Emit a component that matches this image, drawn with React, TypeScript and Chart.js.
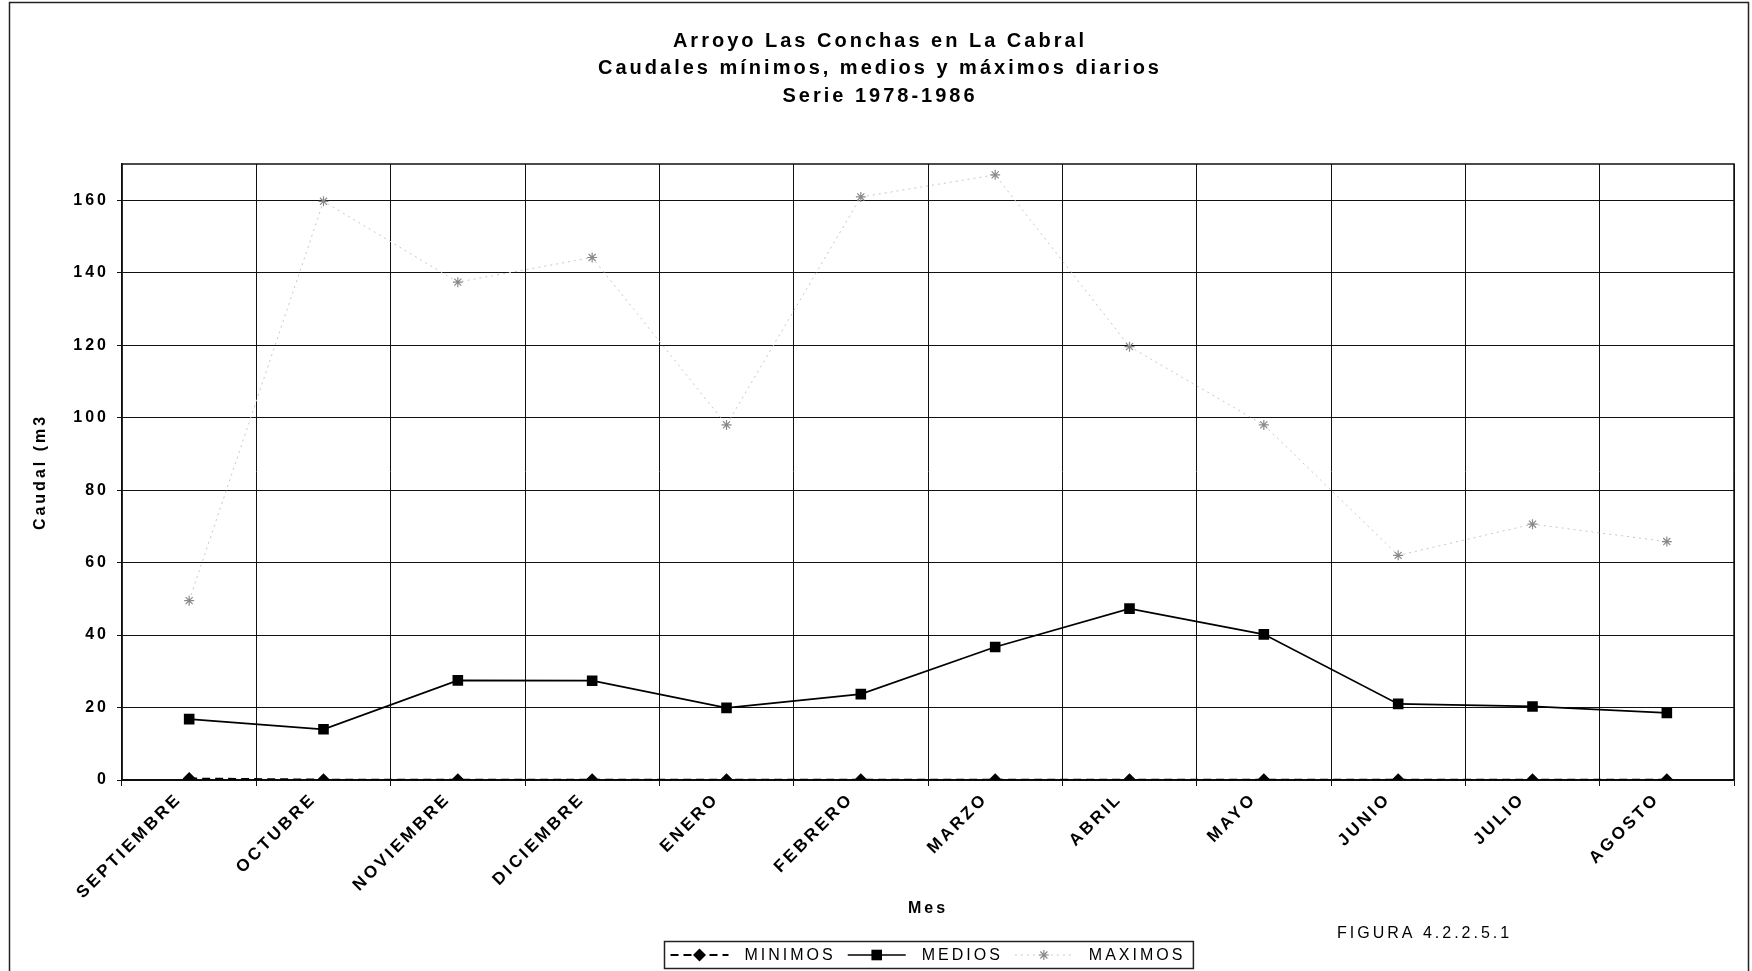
import React, { useEffect, useRef } from 'react';
import { Chart, registerables } from 'chart.js';

Chart.register(...registerables);

// ---------------- data ----------------
const months = [
  'SEPTIEMBRE', 'OCTUBRE', 'NOVIEMBRE', 'DICIEMBRE', 'ENERO', 'FEBRERO',
  'MARZO', 'ABRIL', 'MAYO', 'JUNIO', 'JULIO', 'AGOSTO',
];
const minimos = [0.4, 0.1, 0.1, 0.1, 0.1, 0.1, 0.1, 0.1, 0.1, 0.1, 0.1, 0.1];
const medios = [16.8, 14.0, 27.5, 27.4, 19.9, 23.7, 36.7, 47.3, 40.2, 21.0, 20.3, 18.5];
const maximos = [49.5, 159.7, 137.4, 144.2, 98.0, 160.9, 167.0, 119.6, 98.0, 62.0, 70.6, 65.8];
const yTickValues = [0, 20, 40, 60, 80, 100, 120, 140, 160];
const yMax = 170;

const titleLines = [
  'Arroyo Las Conchas en La Cabral',
  'Caudales mínimos, medios y máximos diarios',
  'Serie 1978-1986',
];
const yAxisTitle = 'Caudal (m3';
const xAxisTitle = 'Mes';
const figureLabel = 'FIGURA 4.2.2.5.1';
const seriesNames = ['MINIMOS', 'MEDIOS', 'MAXIMOS'];

// ---------------- style ----------------
const W = 1752;
const H = 971;
const FONT = 'Arial, "Liberation Sans", sans-serif';
const SPACING = '3px';
const PLOT = { left: 122, right: 1734, top: 164, bottom: 780 };

function drawMarker(ctx: CanvasRenderingContext2D, style: string, x: number, y: number, r: number, fill: string, stroke: string) {
  ctx.save();
  ctx.fillStyle = fill;
  ctx.strokeStyle = stroke;
  ctx.setLineDash([]);
  ctx.beginPath();
  if (style === 'rectRot') {
    ctx.moveTo(x, y - r);
    ctx.lineTo(x + r, y);
    ctx.lineTo(x, y + r);
    ctx.lineTo(x - r, y);
    ctx.closePath();
    ctx.fill();
  } else if (style === 'rect') {
    const s = r * Math.SQRT1_2;
    ctx.rect(x - s, y - s, 2 * s, 2 * s);
    ctx.fill();
  } else {
    ctx.lineWidth = 1.2;
    for (let i = 0; i < 4; i++) {
      const a = (i * Math.PI) / 4;
      ctx.moveTo(x - Math.cos(a) * r, y - Math.sin(a) * r);
      ctx.lineTo(x + Math.cos(a) * r, y + Math.sin(a) * r);
    }
    ctx.stroke();
  }
  ctx.restore();
}

const decorPlugin = {
  id: 'decor',
  beforeLayout(chart: any) {
    chart.ctx.letterSpacing = SPACING;
  },
  beforeDraw(chart: any) {
    const ctx = chart.ctx as CanvasRenderingContext2D;
    (ctx as any).letterSpacing = SPACING;
    ctx.save();
    ctx.fillStyle = '#ffffff';
    ctx.fillRect(0, 0, W, H);
    // outer frame
    ctx.strokeStyle = '#222';
    ctx.lineWidth = 1.5;
    ctx.beginPath();
    ctx.moveTo(9.5, H + 5);
    ctx.lineTo(9.5, 2.5);
    ctx.lineTo(1748.5, 2.5);
    ctx.lineTo(1748.5, H + 5);
    ctx.stroke();
    // title
    ctx.fillStyle = '#000';
    ctx.font = `bold 20px ${FONT}`;
    ctx.textAlign = 'center';
    ctx.textBaseline = 'middle';
    titleLines.forEach((t, i) => ctx.fillText(t, 880, 41 + i * 27.5));
    ctx.restore();
  },
  beforeDatasetsDraw(chart: any) {
    const { ctx, chartArea: a } = chart;
    ctx.save();
    ctx.strokeStyle = '#111';
    ctx.lineWidth = 1.5;
    ctx.setLineDash([]);
    ctx.strokeRect(a.left, a.top, a.right - a.left, a.bottom - a.top);
    ctx.restore();
  },
  afterDraw(chart: any) {
    const ctx = chart.ctx as CanvasRenderingContext2D;
    const a = chart.chartArea;
    ctx.save();
    (ctx as any).letterSpacing = SPACING;
    ctx.font = `16px ${FONT}`;
    ctx.textBaseline = 'middle';
    ctx.textAlign = 'left';
    ctx.fillStyle = '#000';

    // figure label
    ctx.fillText(figureLabel, 1337, 934);

    // legend
    const ds = chart.data.datasets;
    const sample = 58;
    const gapText = 16;
    const gapItem = 12;
    const padL = 6;
    const padR = 8;
    const widths = ds.map((d: any) => ctx.measureText(d.label).width);
    const total = padL + padR + ds.length * (sample + gapText) + widths.reduce((s: number, w: number) => s + w, 0) + (ds.length - 1) * gapItem;
    const cx = (a.left + a.right) / 2;
    const top = 941;
    const hgt = 27;
    const left = Math.round(cx - total / 2) + 0.5;
    ctx.strokeStyle = '#222';
    ctx.lineWidth = 1.5;
    ctx.strokeRect(left, top + 0.5, total, hgt);
    const cy = top + hgt / 2 + 0.5;
    let x = left + padL;
    ds.forEach((d: any, i: number) => {
      ctx.save();
      ctx.strokeStyle = d.borderColor;
      ctx.lineWidth = d.borderWidth;
      ctx.setLineDash(d.borderDash || []);
      ctx.beginPath();
      ctx.moveTo(x, cy);
      ctx.lineTo(x + sample, cy);
      ctx.stroke();
      ctx.restore();
      drawMarker(ctx, d.pointStyle, x + sample / 2, cy, d.pointRadius, d.pointBackgroundColor, d.pointBorderColor);
      x += sample + gapText;
      ctx.fillStyle = '#000';
      ctx.fillText(d.label, x, cy + 1);
      x += widths[i] + gapItem;
    });
    ctx.restore();
  },
};

export default function App() {
  const ref = useRef<HTMLCanvasElement | null>(null);

  useEffect(() => {
    document.body.style.margin = '0';
    document.body.style.overflow = 'hidden';
    const canvas = ref.current;
    if (!canvas) return;
    const chart = new Chart(canvas, {
      type: 'line',
      data: {
        labels: months,
        datasets: [
          {
            label: seriesNames[0],
            data: minimos,
            borderColor: '#000',
            borderWidth: 2,
            borderDash: [8, 5],
            pointStyle: 'rectRot',
            pointRadius: 6.5,
            pointBackgroundColor: '#000',
            pointBorderColor: '#000',
            pointBorderWidth: 0,
            tension: 0,
          },
          {
            label: seriesNames[1],
            data: medios,
            borderColor: '#000',
            borderWidth: 1.7,
            pointStyle: 'rect',
            pointRadius: 7.5,
            pointBackgroundColor: '#000',
            pointBorderColor: '#000',
            pointBorderWidth: 0,
            tension: 0,
          },
          {
            label: seriesNames[2],
            data: maximos,
            borderColor: '#c8c8c8',
            borderWidth: 1,
            borderDash: [2, 4],
            pointStyle: 'star',
            pointRadius: 5,
            pointBackgroundColor: '#8a8a8a',
            pointBorderColor: '#8a8a8a',
            pointBorderWidth: 1.2,
            tension: 0,
          },
        ],
      },
      options: {
        animation: false,
        responsive: false,
        devicePixelRatio: 1,
        layout: { padding: { top: PLOT.top, right: W - PLOT.right, bottom: 0, left: 0 } },
        plugins: {
          legend: { display: false },
          title: { display: false },
          tooltip: { enabled: false },
        },
        scales: {
          x: {
            type: 'category',
            offset: true,
            grid: { offset: true, color: '#111', lineWidth: 1, tickLength: 6, drawTicks: true },
            border: { color: '#000', width: 1.5 },
            ticks: {
              autoSkip: false,
              maxRotation: 45,
              minRotation: 45,
              color: '#000',
              padding: 3,
              labelOffset: -10,
              font: { family: FONT, size: 17, weight: 'bold' },
            },
            title: {
              display: true,
              text: xAxisTitle,
              color: '#000',
              font: { family: FONT, size: 16, weight: 'bold' },
              padding: { top: 0, bottom: 53 },
            },
            afterFit: (s: any) => {
              s.height = H - PLOT.bottom;
            },
          },
          y: {
            min: 0,
            max: yMax,
            afterBuildTicks: (s: any) => {
              s.ticks = yTickValues.map((v) => ({ value: v }));
            },
            grid: { color: '#111', lineWidth: 1, tickLength: 5 },
            border: { color: '#000', width: 1.5 },
            ticks: {
              color: '#000',
              padding: 8,
              font: { family: FONT, size: 16, weight: 'bold' },
            },
            title: {
              display: true,
              text: yAxisTitle,
              color: '#000',
              font: { family: FONT, size: 16, weight: 'bold' },
              padding: { top: 31, bottom: 0 },
            },
            afterFit: (s: any) => {
              s.width = PLOT.left;
            },
          },
        },
      },
      plugins: [decorPlugin],
    } as any);
    return () => chart.destroy();
  }, []);

  return <canvas ref={ref} width={W} height={H} style={{ display: 'block', width: W, height: H }} />;
}
